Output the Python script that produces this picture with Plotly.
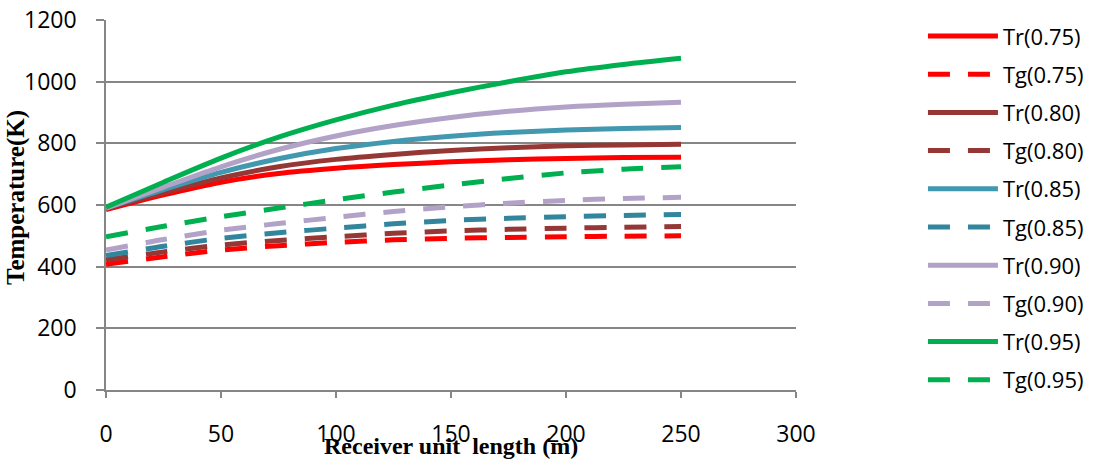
import plotly.graph_objects as go

x_len = [0, 25, 50, 75, 100, 125, 150, 175, 200, 225, 250]

tr_075 = [585, 633, 674, 702, 719, 731, 740, 747, 751, 754, 755]
tg_075 = [408, 432, 454, 468, 479, 487, 492, 495, 497, 499, 500]
tr_080 = [588, 640, 688, 724, 748, 764, 777, 786, 792, 795, 797]
tg_080 = [422, 448, 470, 485, 497, 508, 516, 521, 525, 528, 530]
tr_085 = [590, 650, 706, 750, 783, 806, 823, 835, 843, 848, 851]
tg_085 = [436, 466, 492, 510, 525, 539, 550, 557, 562, 566, 569]
tr_090 = [590, 658, 724, 780, 824, 858, 884, 904, 918, 927, 933]
tg_090 = [454, 488, 518, 540, 560, 579, 594, 606, 615, 621, 625]
tr_095 = [593, 674, 752, 820, 876, 924, 964, 1000, 1032, 1056, 1076]
tg_095 = [497, 531, 562, 590, 617, 642, 665, 686, 704, 716, 724]

series = [
    ("Tr(0.75)", tr_075, "#FF0000", "solid"),
    ("Tg(0.75)", tg_075, "#FF0000", "dash"),
    ("Tr(0.80)", tr_080, "#953735", "solid"),
    ("Tg(0.80)", tg_080, "#953735", "dash"),
    ("Tr(0.85)", tr_085, "#4198AF", "solid"),
    ("Tg(0.85)", tg_085, "#31859C", "dash"),
    ("Tr(0.90)", tr_090, "#B3A2C7", "solid"),
    ("Tg(0.90)", tg_090, "#B3A2C7", "dash"),
    ("Tr(0.95)", tr_095, "#00B050", "solid"),
    ("Tg(0.95)", tg_095, "#00B050", "dash"),
]

fig = go.Figure()
for i, (name, vals, col, dash) in enumerate(series):
    fig.add_trace(go.Scatter(
        x=x_len, y=vals, name=name, mode="lines",
        line=dict(color=col, width=5, shape="spline", smoothing=0.8,
                  dash="22px,18px" if dash == "dash" else "solid"),
        legendgroup=f"g{i}",
    ))

grid = "#868686"
fig.update_layout(
    width=1096, height=463,
    margin=dict(l=106, r=300, t=20, b=73, autoexpand=False),
    paper_bgcolor="white", plot_bgcolor="white",
    font=dict(family="Open Sans, Lato, sans-serif", size=23, color="black"),
    showlegend=True,
    legend=dict(x=1.184, y=1.013, xanchor="left", yanchor="top",
                font=dict(size=22), itemwidth=70, tracegroupgap=6.6,
                maxheight=455,
                traceorder="grouped", bgcolor="rgba(0,0,0,0)"),
    xaxis=dict(range=[0, 300], tickvals=[0, 50, 100, 150, 200, 250, 300],
               showgrid=False, showline=True, linecolor=grid, linewidth=1.5,
               ticks="outside", ticklen=6, tickcolor=grid, tickwidth=1.5,
               ticklabelstandoff=17, zeroline=False, automargin=False),
    yaxis=dict(range=[0, 1200], tickvals=[0, 200, 400, 600, 800, 1000, 1200],
               showgrid=True, gridcolor=grid, gridwidth=1.5,
               showline=True, linecolor=grid, linewidth=1.5,
               ticks="outside", ticklen=8, tickcolor=grid, tickwidth=1.5,
               ticklabelstandoff=15, zeroline=False, automargin=False),
    annotations=[
        dict(text="<b>Receiver unit&nbsp; length (m)</b>", xref="paper", yref="paper",
             x=0.5, y=0, yshift=-56, xanchor="center", yanchor="middle",
             showarrow=False,
             font=dict(family="Liberation Serif, Times New Roman, serif", size=24)),
        dict(text="<b>Temperature(K)</b>", xref="paper", yref="paper",
             x=0, xshift=-90, y=0.519, xanchor="center", yanchor="middle",
             textangle=-90, showarrow=False,
             font=dict(family="Liberation Serif, Times New Roman, serif", size=25)),
    ],
)

fig.write_html("out.html", post_script="document.body.style.margin='0px';",
               config={"displayModeBar": False})
